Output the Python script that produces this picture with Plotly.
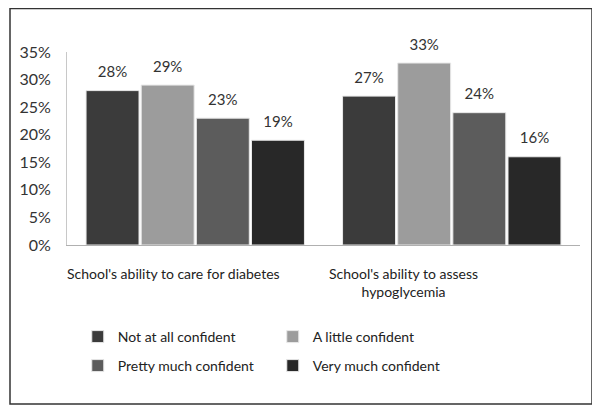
import plotly.graph_objects as go

categories = ["School's ability to care for diabetes", "School's ability to assess<br>hypoglycemia"]
series_names = ["Not at all confident", "A little confident", "Pretty much confident", "Very much confident"]
not_at_all = [28, 27]
a_little = [29, 33]
pretty_much = [23, 24]
very_much = [19, 16]
series_values = [not_at_all, a_little, pretty_much, very_much]
colors = ["#3b3b3b", "#9c9c9c", "#5c5c5c", "#282828"]
y_ticks = [0, 5, 10, 15, 20, 25, 30, 35]
y_tick_labels = [f"{t}%" for t in y_ticks]
label_shift = [-22, -48]

FONT = "Lato, 'Open Sans', sans-serif"
W, H = 592, 403          # page body has an 8px margin
L, R, T, B = 59, 20, 44, 166
pw, ph = W - L - R, H - T - B

fig = go.Figure()
for i, (name, vals, col) in enumerate(zip(series_names, series_values, colors)):
    fig.add_trace(go.Bar(
        x=[0, 1], y=vals, name=name, offsetgroup=str(i),
        marker=dict(color=col, line=dict(color="#e8e8e8", width=1)),
        legend="legend" if i < 2 else "legend2",
    ))
for i, (name, vals) in enumerate(zip(series_names, series_values)):
    fig.add_trace(go.Scatter(
        x=[0, 1], y=vals, mode="markers+text", offsetgroup=str(i), showlegend=False,
        marker=dict(size=14, opacity=0), text=[f"{v}%" for v in vals],
        textposition="top center", cliponaxis=False, hoverinfo="skip",
        textfont=dict(size=15, color="#333333", family=FONT),
    ))

for j, cat in enumerate(categories):
    fig.add_annotation(x=j, y=0, xref="x", yref="y", text=cat, showarrow=False,
                       yanchor="top", yshift=-18, xshift=label_shift[j],
                       font=dict(size=14, color="#222222", family=FONT), align="center")

fig.update_layout(
    width=W, height=H,
    margin=dict(l=L, r=R, t=T, b=B, autoexpand=False),
    paper_bgcolor="white", plot_bgcolor="white",
    barmode="group", bargap=0.14, bargroupgap=0.04,
    scattermode="group", scattergap=0.14,
    font=dict(family=FONT, color="#333333"),
    xaxis=dict(range=[-0.5, 1.5], showticklabels=False, showgrid=False, zeroline=False,
               showline=True, linecolor="#b0b0b0", linewidth=1, ticks=""),
    yaxis=dict(range=[0, 35], tickvals=y_ticks, ticktext=y_tick_labels, showgrid=False,
               zeroline=False, showline=True, linecolor="#c8c8c8", linewidth=1,
               ticks="", ticklen=0, tickfont=dict(size=16, color="#333333"), ticklabelstandoff=12),
    legend=dict(orientation="h", x=0.021, y=(237 - 329) / ph, xanchor="left", yanchor="middle",
                entrywidth=150, font=dict(size=14, color="#222222"), itemwidth=30,
                bgcolor="rgba(0,0,0,0)"),
    legend2=dict(orientation="h", x=0.021, y=(237 - 358) / ph, xanchor="left", yanchor="middle",
                 entrywidth=150, font=dict(size=14, color="#222222"), itemwidth=30,
                 bgcolor="rgba(0,0,0,0)"),
    showlegend=True,
)
fig.add_shape(type="rect", xref="paper", yref="paper",
              x0=(2 - L) / pw, x1=(584 - L) / pw,
              y0=(237 - 396) / ph, y1=(237 - 0.5) / ph,
              line=dict(color="#333333", width=1.5), fillcolor="rgba(0,0,0,0)", layer="below")
fig.write_html("out.html")
